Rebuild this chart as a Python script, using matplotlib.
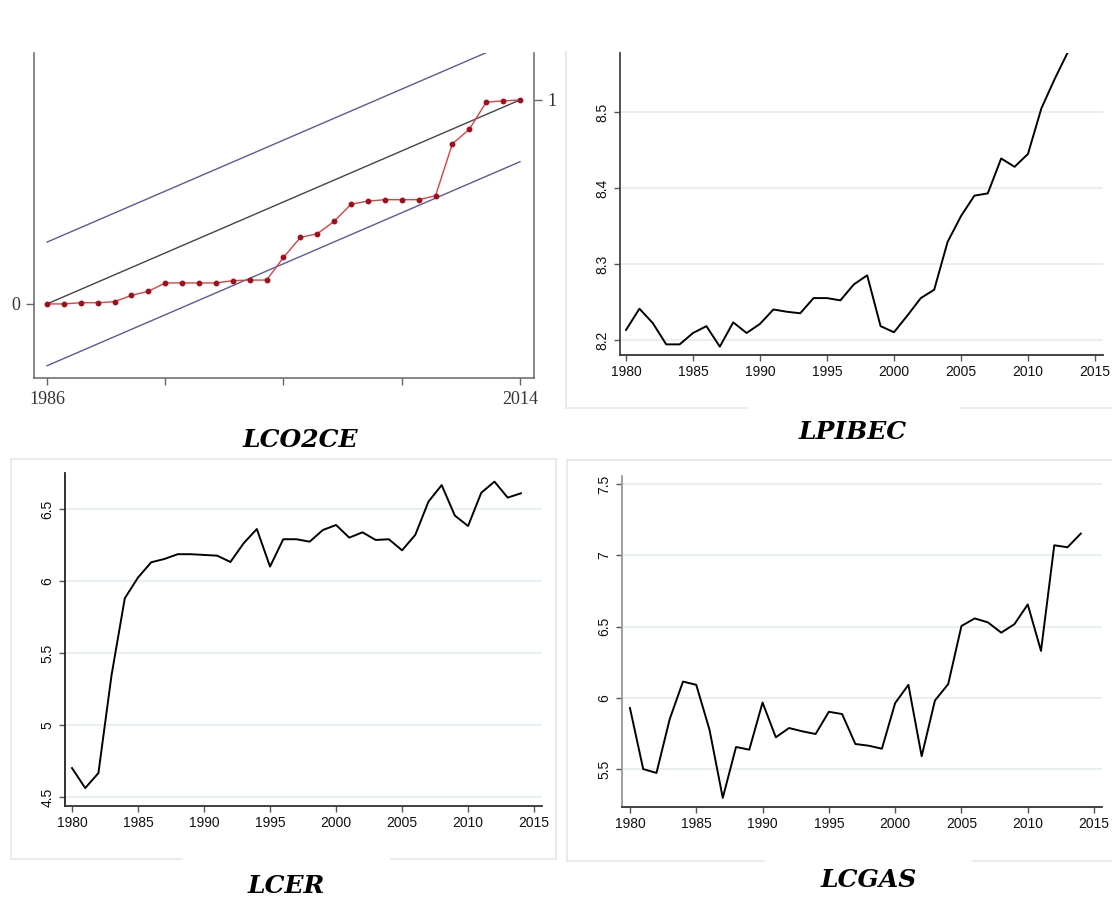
import matplotlib
matplotlib.use("Agg")
import matplotlib.pyplot as plt
from matplotlib.lines import Line2D

W, H = 1112, 899

# ---------------- data ----------------
cusum_years = list(range(1986, 2015))
cusum_sq = [0.000, 0.000, 0.006, 0.006, 0.011, 0.042, 0.062, 0.103, 0.103, 0.103,
            0.103, 0.114, 0.117, 0.117, 0.228, 0.326, 0.344, 0.405, 0.489, 0.504,
            0.511, 0.511, 0.511, 0.530, 0.785, 0.856, 0.989, 0.995, 1.000]
ref_years = [1986, 2014]
ref_mid = [0.0, 1.0]
ref_upper = [0.303, 1.303]
ref_lower = [-0.303, 0.697]

years = list(range(1980, 2015))
lpibec = [8.213, 8.241, 8.222, 8.194, 8.194, 8.209, 8.218, 8.191, 8.223, 8.209,
          8.221, 8.240, 8.237, 8.235, 8.255, 8.255, 8.252, 8.273, 8.285, 8.218,
          8.210, 8.232, 8.255, 8.266, 8.329, 8.363, 8.390, 8.393, 8.439, 8.428,
          8.445, 8.505, 8.544, 8.580, 8.615]
lcer = [4.701, 4.562, 4.666, 5.349, 5.880, 6.024, 6.130, 6.153, 6.186, 6.186,
        6.181, 6.176, 6.132, 6.262, 6.361, 6.100, 6.290, 6.290, 6.273, 6.354,
        6.389, 6.301, 6.338, 6.285, 6.290, 6.213, 6.320, 6.551, 6.666, 6.454,
        6.382, 6.613, 6.690, 6.579, 6.609]
lcgas = [5.928, 5.500, 5.473, 5.851, 6.114, 6.091, 5.776, 5.298, 5.655, 5.636,
         5.967, 5.723, 5.788, 5.765, 5.746, 5.902, 5.886, 5.676, 5.664, 5.643,
         5.963, 6.091, 5.590, 5.981, 6.096, 6.504, 6.557, 6.529, 6.457, 6.517,
         6.655, 6.329, 7.070, 7.056, 7.152]

xticks_main = [1980, 1985, 1990, 1995, 2000, 2005, 2010, 2015]
yt_lpibec = [8.2, 8.3, 8.4, 8.5]
yl_lpibec = ["8.2", "8.3", "8.4", "8.5"]
yt_lcer = [4.5, 5, 5.5, 6, 6.5]
yl_lcer = ["4.5", "5", "5.5", "6", "6.5"]
yt_lcgas = [5.5, 6, 6.5, 7, 7.5]
yl_lcgas = ["5.5", "6", "6.5", "7", "7.5"]

titles = ["LCO2CE", "LPIBEC", "LCER", "LCGAS"]

# ---------------- helpers ----------------
def px_axes(fig, left, top, right, bottom):
    return fig.add_axes([left / W, 1 - bottom / H, (right - left) / W, (bottom - top) / H])

def fig_line(fig, x0, y0, x1, y1, color="#e4eaec", lw=1.3):
    fig.add_artist(Line2D([x0 / W, x1 / W], [1 - y0 / H, 1 - y1 / H],
                          transform=fig.transFigure, color=color, lw=lw))

fig = plt.figure(figsize=(W / 100, H / 100), dpi=100)
fig.patch.set_facecolor("white")

# ---------------- panel 1: CUSUM of squares ----------------
ax1 = px_axes(fig, 34, 53, 534, 378)
ax1.plot(ref_years, ref_upper, color="#5a5a9c", lw=1.0)
ax1.plot(ref_years, ref_lower, color="#5a5a9c", lw=1.0)
ax1.plot(ref_years, ref_mid, color="#444444", lw=1.0)
ax1.plot(cusum_years, cusum_sq, color="#e0403f", lw=1.0, marker="o",
         markersize=3.2, markerfacecolor="#a0101c", markeredgecolor="#a0101c")
ax1.set_xlim(1985.23, 2014.83)
ax1.set_ylim(-0.363, 1.230)
ax1.spines["top"].set_visible(False)
for s in ["left", "right", "bottom"]:
    ax1.spines[s].set_color("#666666")
    ax1.spines[s].set_linewidth(1.1)
ax1.set_xticks([1986, 1993, 2000, 2007, 2014])
ax1.set_xticklabels(["1986", "", "", "", "2014"])
ax1.set_yticks([0])
ax1.set_yticklabels(["0"])
ax1.tick_params(axis="x", direction="out", length=5, width=1, color="#666666",
                labelsize=13, labelcolor="#333333", pad=4)
ax1.tick_params(axis="y", direction="out", length=6, width=1, color="#666666",
                labelsize=13, labelcolor="#333333", pad=4)
for lab in ax1.get_xticklabels() + ax1.get_yticklabels():
    lab.set_fontfamily("Liberation Serif")
ax1r = ax1.twinx()
ax1r.set_ylim(ax1.get_ylim())
ax1r.set_yticks([1])
ax1r.set_yticklabels(["1"])
ax1r.tick_params(axis="y", direction="out", length=6, width=1, color="#666666",
                 labelsize=13, labelcolor="#333333", pad=4)
for lab in ax1r.get_yticklabels():
    lab.set_fontfamily("Liberation Serif")
for s in ax1r.spines.values():
    s.set_visible(False)

# ---------------- panels 2-4 ----------------
def stata_panel(ax, yvals, yt, yl, ylim, xlim, left_color):
    ax.plot(years, yvals, color="black", lw=1.4, zorder=3)
    ax.set_xlim(*xlim)
    ax.set_ylim(*ylim)
    ax.set_xticks(xticks_main)
    ax.set_xticklabels([str(v) for v in xticks_main])
    ax.set_yticks(yt)
    ax.set_yticklabels(yl)
    ax.yaxis.grid(True, color="#e6eef0", lw=1.3, zorder=0)
    ax.set_axisbelow(True)
    ax.spines["top"].set_visible(False)
    ax.spines["right"].set_visible(False)
    ax.spines["left"].set_color(left_color)
    ax.spines["left"].set_linewidth(1.3)
    ax.spines["bottom"].set_color("#333333")
    ax.spines["bottom"].set_linewidth(1.3)
    ax.tick_params(axis="both", direction="out", length=4.5, width=1,
                   color="#555555", labelsize=10, labelcolor="#111111", pad=3)
    for lab in ax.get_xticklabels() + ax.get_yticklabels():
        lab.set_fontfamily("Liberation Sans")
    for lab in ax.get_yticklabels():
        lab.set_rotation(90)
        lab.set_va("center")

ax2 = px_axes(fig, 620, 53, 1103, 355)
stata_panel(ax2, lpibec, yt_lpibec, yl_lpibec, (8.180, 8.578), (1979.55, 2015.6), "#444444")

ax3 = px_axes(fig, 65, 473, 542, 806)
stata_panel(ax3, lcer, yt_lcer, yl_lcer, (4.4375, 6.75), (1979.47, 2015.6), "#222222")

ax4 = px_axes(fig, 622, 476, 1102, 807)
stata_panel(ax4, lcgas, yt_lcgas, yl_lcgas, (5.234, 7.556), (1979.4, 2015.6), "#999999")

# ---------------- light panel frames ----------------
# panel 2 frame
fig_line(fig, 566, 52, 566, 408)
fig_line(fig, 566, 408, 747, 408)
fig_line(fig, 961, 408, 1112, 408)
# panel 3 frame
fig_line(fig, 11, 459, 556, 459)
fig_line(fig, 11, 459, 11, 859)
fig_line(fig, 556, 459, 556, 859)
fig_line(fig, 11, 859, 182, 859)
fig_line(fig, 391, 859, 556, 859)
# panel 4 frame
fig_line(fig, 567, 460, 1112, 460)
fig_line(fig, 567, 460, 567, 861)
fig_line(fig, 567, 861, 764, 861)
fig_line(fig, 973, 861, 1112, 861)

# ---------------- titles ----------------
title_pos = [(300, 440), (853, 432), (286, 886), (869, 880)]
for t, (x, y) in zip(titles, title_pos):
    fig.text(x / W, 1 - y / H, t, ha="center", va="center", fontsize=18,
             fontweight="bold", fontstyle="italic", family="DejaVu Serif", color="black")

fig.savefig("out.png", dpi=100, facecolor="white")
